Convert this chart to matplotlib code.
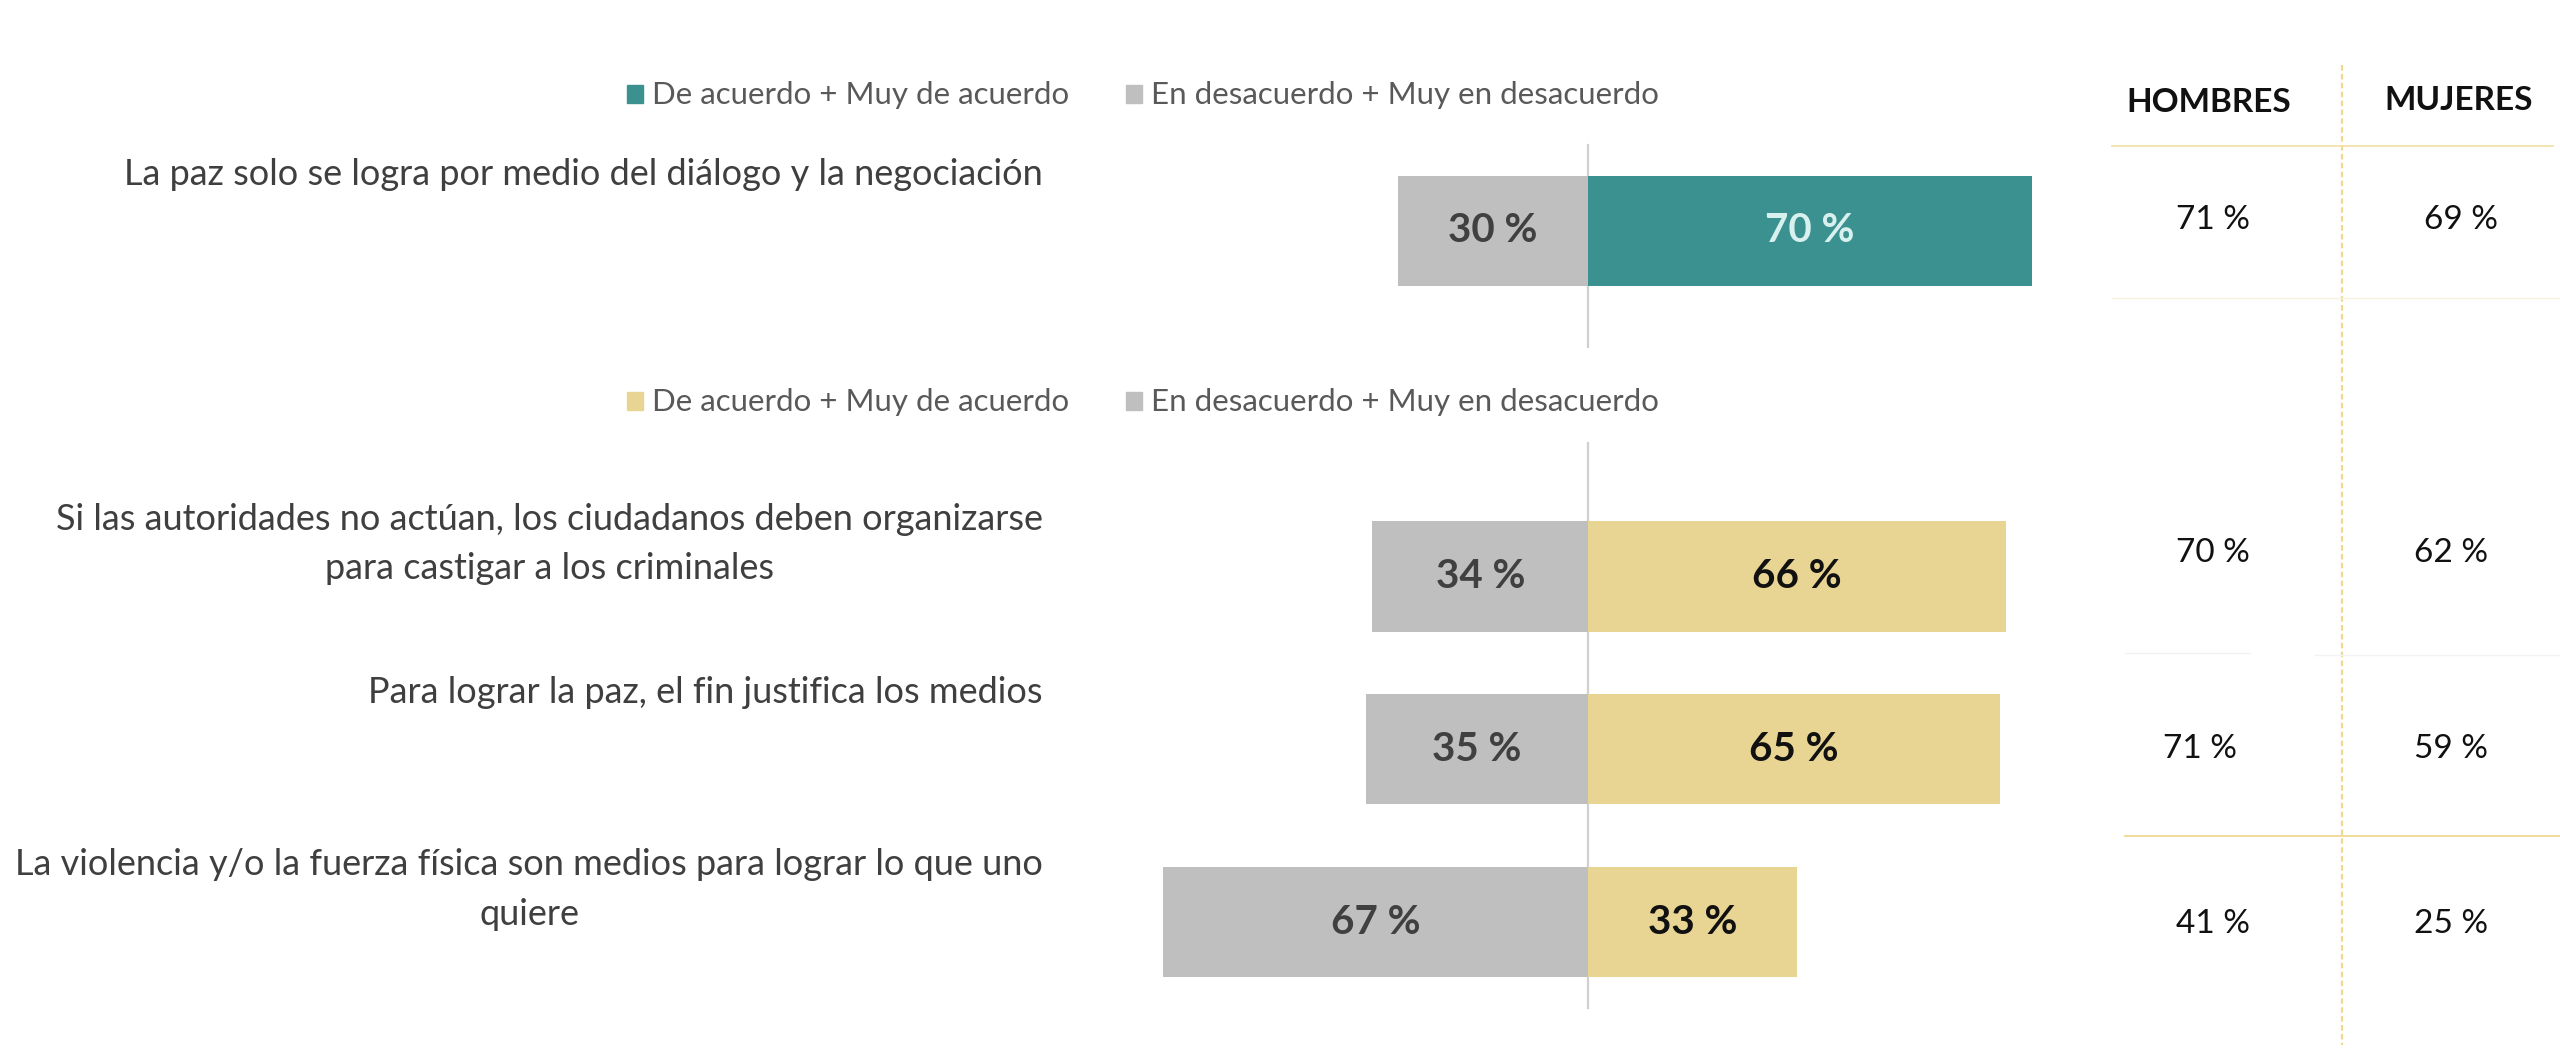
import matplotlib
matplotlib.use("Agg")
import matplotlib.pyplot as plt
from matplotlib.patches import Rectangle
from matplotlib.lines import Line2D

# ---------------- data ----------------
statements = [
    "La paz solo se logra por medio del diálogo y la negociación",
    "Si las autoridades no actúan, los ciudadanos deben organizarse\npara castigar a los criminales",
    "Para lograr la paz, el fin justifica los medios",
    "La violencia y/o la fuerza física son medios para lograr lo que uno\nquiere",
]
agree = [70, 66, 65, 33]
disagree = [30, 34, 35, 67]
hombres = [71, 70, 71, 41]
mujeres = [69, 62, 59, 25]
legend_agree = "De acuerdo + Muy de acuerdo"
legend_disagree = "En desacuerdo + Muy en desacuerdo"
table_headers = ["HOMBRES", "MUJERES"]

# ---------------- style / layout ----------------
W, H = 2560, 1053
DPI = 100
FONT = "Lato"
TEAL = "#3b9190"
YELLOW = "#e9d593"
GRAY = "#bfbfbf"
positions = [0, 2, 3, 4]
agree_colors = [TEAL, YELLOW, YELLOW, YELLOW]
agree_text_colors = ["#d8f1ee", "#111111", "#111111", "#111111"]
bar_height = 0.637
LINE_STEP_PX = 49

# pixel mapping used to set the axes limits (x: percent, y: row slot)
X0_PX, PX_PER_PCT = 1588, 6.34
Y0_PX, PX_PER_ROW = 231, 172.75

fig = plt.figure(figsize=(W / DPI, H / DPI), dpi=DPI)
fig.patch.set_facecolor("white")
ax = fig.add_axes([0, 0, 1, 1])
ax.set_xlim(-X0_PX / PX_PER_PCT, (W - X0_PX) / PX_PER_PCT)
ax.set_ylim((H - Y0_PX) / PX_PER_ROW, -Y0_PX / PX_PER_ROW)
ax.axis("off")


def px_y(py):
    return (py - Y0_PX) / PX_PER_ROW


def px_x(px):
    return (px - X0_PX) / PX_PER_PCT


# bars
ax.barh(positions, agree, left=0, height=bar_height, color=agree_colors, zorder=2)
ax.barh(positions, [-d for d in disagree], left=0, height=bar_height, color=GRAY, zorder=2)

# bar value labels
for p, a, d, tc in zip(positions, agree, disagree, agree_text_colors):
    ax.text(a / 2, p, f"{a} %", ha="center", va="center", fontsize=29,
            fontweight="bold", color=tc, family=FONT, zorder=3)
    ax.text(-d / 2, p, f"{d} %", ha="center", va="center", fontsize=29,
            fontweight="bold", color="#404040", family=FONT, zorder=3)

# center (zero) lines of the two charts
ax.plot([0, 0], [px_y(145), px_y(347)], color="#d0d0d0", lw=1.6, zorder=1)
ax.plot([0, 0], [px_y(443), px_y(1008)], color="#d0d0d0", lw=1.6, zorder=1)

# statement labels (baseline of the last line is anchored)
for p, s in zip(positions, statements):
    n_extra = s.count("\n")
    y = p - bar_height / 2 + (9 + n_extra * LINE_STEP_PX) / PX_PER_ROW
    ax.text(px_x(1043), y, s, ha="right", va="baseline", multialignment="center",
            fontsize=26, color="#3f3f3f", family=FONT, linespacing=1.62)

# legends (drawn as patches + text)
def draw_legend(y_px, agree_color):
    items = [(627, agree_color, legend_agree), (1126, GRAY, legend_disagree)]
    for x_px, col, lab in items:
        fig.add_artist(Rectangle((x_px / W, 1 - (y_px + 9) / H), 16 / W, 18 / H,
                                 transform=fig.transFigure, color=col))
        fig.text((x_px + 25) / W, 1 - (y_px + 1) / H, lab, ha="left", va="center",
                 fontsize=22.5, color="#595959", family=FONT)


draw_legend(94, TEAL)
draw_legend(401, YELLOW)

# right-hand table
fig.text(2209 / W, 1 - 103 / H, table_headers[0], ha="center", va="center",
         fontsize=24, fontweight="bold", color="#111111", family=FONT)
fig.text(2459 / W, 1 - 101 / H, table_headers[1], ha="center", va="center",
         fontsize=24, fontweight="bold", color="#111111", family=FONT)
row_offsets = [-11, -23, 0, 2]          # px offsets of table rows from bar centers
hombres_x_px = [2213, 2213, 2200, 2213]
mujeres_x_px = [2461, 2451, 2451, 2451]
for p, off, h_, m_, hx, mx in zip(positions, row_offsets, hombres, mujeres,
                                  hombres_x_px, mujeres_x_px):
    ax.text(px_x(hx), p + off / PX_PER_ROW, f"{h_} %", ha="center", va="center",
            fontsize=24, color="#111111", family=FONT)
    ax.text(px_x(mx), p + off / PX_PER_ROW, f"{m_} %", ha="center", va="center",
            fontsize=24, color="#111111", family=FONT)


def fig_line(x1, y1, x2, y2, **kw):
    fig.add_artist(Line2D([x1 / W, x2 / W], [1 - y1 / H, 1 - y2 / H],
                          transform=fig.transFigure, **kw))


fig_line(2342, 65, 2342, 1045, color="#efd98f", lw=1.6, linestyle=(0, (2.5, 1.5)))
fig_line(2112, 146, 2553, 146, color="#f1dfa6", lw=1.2)
fig_line(2112, 298, 2560, 298, color="#f8f1dc", lw=1.0)
fig_line(2125, 653, 2250, 653, color="#f2f2f2", lw=1.0)
fig_line(2315, 655, 2560, 655, color="#f2f2f2", lw=1.0)
fig_line(2125, 836, 2560, 836, color="#f0dc9e", lw=1.5)

fig.savefig("out.png", dpi=DPI, facecolor="white")
